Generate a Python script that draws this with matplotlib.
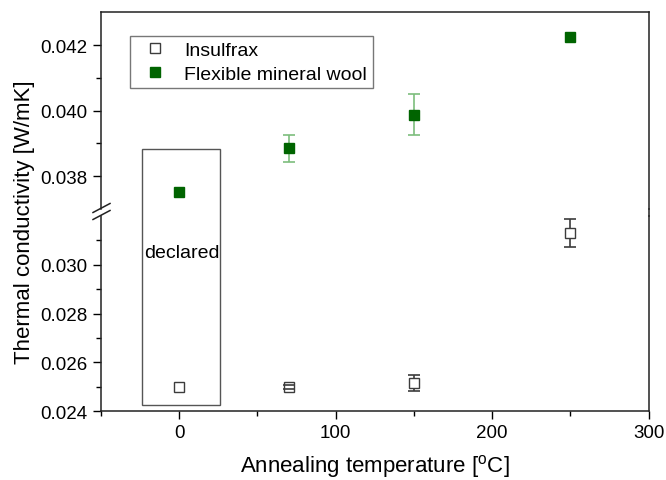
import matplotlib
matplotlib.use("Agg")
import matplotlib.pyplot as plt
from matplotlib.lines import Line2D
from matplotlib.patches import Rectangle
from matplotlib.ticker import FormatStrFormatter

plt.rcParams["font.family"] = ["Liberation Sans", "DejaVu Sans"]
plt.rcParams["mathtext.fontset"] = "custom"
plt.rcParams["mathtext.rm"] = "Liberation Sans"

# Annealing temperatures [°C]
temperature = [0, 70, 150, 250]

# Thermal conductivity [W/mK] and standard deviations
insulfrax = [0.02498, 0.02498, 0.02516, 0.03129]
insulfrax_err = [0.0, 0.00008, 0.00034, 0.00057]
mineral_wool = [0.03751, 0.03885, 0.03988, 0.04225]
mineral_wool_err = [0.0, 0.00041, 0.00062, 0.0]

series_labels = ["Insulfrax", "Flexible mineral wool"]
declared_label = "declared"

W, H = 666, 481
fig = plt.figure(figsize=(W / 100, H / 100), dpi=100)

left, right = 101 / W, 648.7 / W
ax_hi = fig.add_axes([left, 1 - 210.1 / H, right - left, (210.1 - 13.3) / H])
ax_lo = fig.add_axes([left, 1 - 412.3 / H, right - left, (412.3 - 216.9) / H])

green = "#006400"
green_err = "#7dbd7d"
gray = "#3c3c3c"

for ax in (ax_hi, ax_lo):
    ax.set_xlim(-50, 300)
    ax.set_xticks([0, 100, 200, 300])
    ax.set_xticks([-50, 50, 150, 250], minor=True)
    ax.yaxis.set_major_formatter(FormatStrFormatter("%.3f"))
    ax.tick_params(which="major", direction="out", length=6, width=1.0,
                   labelsize=13.5, right=False, top=False)
    ax.tick_params(which="minor", direction="out", length=3.5, width=1.0,
                   right=False, top=False)
    for s in ax.spines.values():
        s.set_linewidth(1.1)
        s.set_color("#222222")
        s.set_zorder(10)

ax_hi.set_ylim(0.037, 0.043)
ax_lo.set_ylim(0.024, 0.032)
ax_hi.spines["bottom"].set_visible(False)
ax_lo.spines["top"].set_visible(False)
ax_hi.tick_params(axis="x", which="both", bottom=False, labelbottom=False)
ax_hi.set_yticks([0.038, 0.040, 0.042])
ax_hi.set_yticks([0.039, 0.041], minor=True)
ax_lo.set_yticks([0.024, 0.026, 0.028, 0.030])
ax_lo.set_yticks([0.025, 0.027, 0.029, 0.031], minor=True)


def draw_series(ax, y, yerr, color, ecolor, face):
    ax.plot(temperature, y, ls="none", marker="s", ms=6.5, mfc=face,
            mec=color, mew=1.0, zorder=4)
    pts = [(t, v, e) for t, v, e in zip(temperature, y, yerr) if e > 0]
    if pts:
        tx, ty, te = zip(*pts)
        _, caps, _ = ax.errorbar(tx, ty, yerr=te, fmt="none", ecolor=ecolor,
                                 elinewidth=1.2, capsize=4, capthick=1.2,
                                 zorder=3)
        for c in caps:
            c.set_zorder(6)


for ax in (ax_hi, ax_lo):
    draw_series(ax, insulfrax, insulfrax_err, gray, gray, "white")
    draw_series(ax, mineral_wool, mineral_wool_err, green, green_err, green)

# "declared" box spanning both panels
x0, x1 = -24, 26
p0 = fig.transFigure.inverted().transform(ax_lo.transData.transform((x0, 0.02426)))
p1 = fig.transFigure.inverted().transform(ax_hi.transData.transform((x1, 0.03883)))
fig.patches.append(Rectangle(p0, p1[0] - p0[0], p1[1] - p0[1], fill=False,
                             edgecolor="#555555", linewidth=1.0,
                             transform=fig.transFigure, zorder=1))
ax_lo.text(2, 0.03051, declared_label, ha="center", va="center", fontsize=14)

# axis break marks on the left spine
for yb in (213.5, 220.5):
    fig.add_artist(Line2D([93 / W, 110 / W], [1 - yb / H, 1 - (yb - 9) / H],
                          transform=fig.transFigure, color="#222222", lw=1.1))
# right spine continues through the break
fig.add_artist(Line2D([right, right], [1 - 216.9 / H, 1 - 210.1 / H],
                      transform=fig.transFigure, color="#222222", lw=1.1))

# legend
h1 = Line2D([], [], ls="none", marker="s", ms=6.5, mfc="white", mec=gray, mew=1.0)
h2 = Line2D([], [], ls="none", marker="s", ms=6.5, mfc=green, mec=green)
leg = ax_hi.legend([h1, h2], series_labels, loc="upper left",
                   bbox_to_anchor=((130 - 101) / (right * W - 101), 1 - (36.7 - 13.3) / (210.1 - 13.3)),
                   fontsize=14, frameon=True, fancybox=False, borderpad=0.3,
                   handletextpad=0.5, labelspacing=0.3, handlelength=2.0,
                   borderaxespad=0.0)
leg.get_frame().set_edgecolor("#555555")
leg.get_frame().set_linewidth(1.0)

fig.text(25 / W, 1 - 222 / H, "Thermal conductivity [W/mK]", rotation=90,
         ha="center", va="center", fontsize=16)
fig.text((101 + 648.7) / 2 / W, 1 - 467 / H, "Annealing temperature [$^{\\rm o}$C]",
         ha="center", va="center", fontsize=16)

fig.savefig("out.png", dpi=100)
